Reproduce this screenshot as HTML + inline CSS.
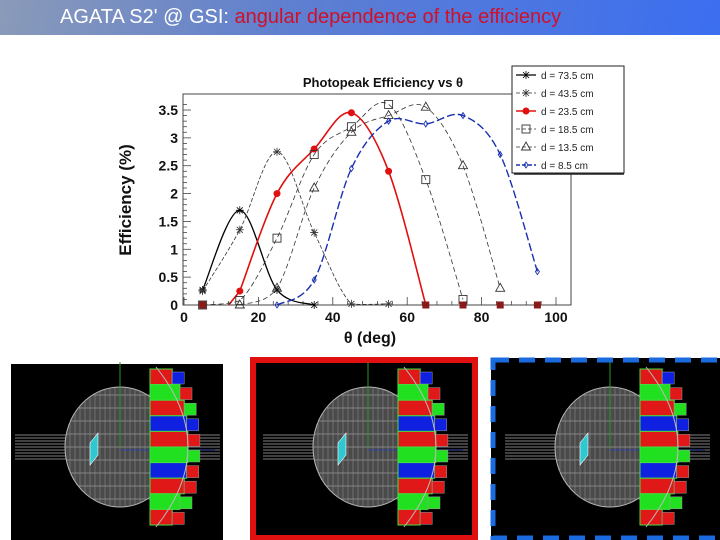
<!DOCTYPE html>
<html><head><meta charset="utf-8"><style>
html,body{margin:0;padding:0;background:#fff;}
body{width:720px;height:540px;overflow:hidden;position:relative;font-family:"Liberation Sans",sans-serif;}
#banner{position:absolute;left:0;top:0;width:720px;height:35px;background:linear-gradient(100deg,#8a9ab8 0%,#5f7fd0 40%,#3b6ef0 100%);}
#banner span{position:absolute;left:60px;top:6px;font-size:20px;color:#fff;white-space:nowrap;}
#banner .red{position:static;color:#d0102a;}
svg{position:absolute;left:0;top:0;}
</style></head><body>
<div id="banner"><span>AGATA S2' @ GSI: <span class="red">angular dependence of the efficiency</span></span></div>
<svg id="chart" width="720" height="540"></svg>
<script>
const thetas=[5,15,25,35,45,55,65,75,85,95];
const seriesNames=["d = 73.5 cm","d = 43.5 cm","d = 23.5 cm","d = 18.5 cm","d = 13.5 cm","d = 8.5 cm"];
const eff735=[0.27,1.7,0.27,0,null,null,null,null,null,null];
const eff435=[0.25,1.35,2.75,1.3,0.02,0.02,null,null,null,null];
const eff235=[null,0.25,2.0,2.8,3.45,2.4,0,null,null,null];
const eff185=[0,0.08,1.2,2.7,3.2,3.6,2.25,0.1,null,null];
const eff135=[null,0,0.3,2.1,3.1,3.4,3.55,2.5,0.3,null];
const eff85=[null,null,0,0.45,2.45,3.3,3.25,3.4,2.7,0.6];
const xTicks=[0,20,40,60,80,100];
const yTicks=[0,0.5,1,1.5,2,2.5,3,3.5];
const NS="http://www.w3.org/2000/svg";
const svg=document.getElementById('chart');
const X0=184,X1=556,Y0=305,Y35=110;
const sx=v=>X0+(X1-X0)*v/100;
const sy=v=>Y0-(Y0-Y35)*v/3.5;
function mk(t,a,p){const e=document.createElementNS(NS,t);for(const k in a)e.setAttribute(k,a[k]);(p||svg).appendChild(e);return e;}
const fr=mk('rect',{x:183,y:94,width:388,height:211,fill:'none',stroke:'#444','stroke-width':1});


for(let v=0;v<=3.7;v+=0.1){const y=sy(v);const big=Math.abs(v*2-Math.round(v*2))<1e-6;
 mk('line',{x1:183,x2:183+(big?8:4),y1:y,y2:y,stroke:'#444','stroke-width':0.8});}
yTicks.forEach(v=>{const t=mk('text',{x:178,y:sy(v)+5,'text-anchor':'end','font-size':14,'font-weight':'bold',fill:'#111'});t.textContent=v;
 
 });
for(let v=0;v<=104;v+=4){const x=sx(v);const big=v%20===0;
 mk('line',{x1:x,x2:x,y1:305,y2:305-(big?8:4),stroke:'#444','stroke-width':0.8});}
xTicks.forEach(v=>{const t=mk('text',{x:sx(v),y:322,'text-anchor':'middle','font-size':14,'font-weight':'bold',fill:'#111'});t.textContent=v;
 
 });
let t=mk('text',{x:370,y:343,'text-anchor':'middle','font-size':16,'font-weight':'bold',fill:'#111'});t.textContent='θ (deg)';


t=mk('text',{x:0,y:0,transform:'translate(131,200) rotate(-90)','text-anchor':'middle','font-size':17,'font-weight':'bold',fill:'#111'});t.textContent='Efficiency (%)';


t=mk('text',{x:383,y:87,'text-anchor':'middle','font-size':13,'font-weight':'bold',fill:'#111'});t.textContent='Photopeak Efficiency vs θ';


const data=[eff735,eff435,eff235,eff185,eff135,eff85];
const styles=[
 {c:'#000',w:1.3,d:'',m:'star'},{c:'#333',w:0.8,d:'4,2',m:'cross'},{c:'#e01010',w:1.6,d:'',m:'dot'},
 {c:'#333',w:0.8,d:'5,3',m:'square'},{c:'#333',w:0.8,d:'5,3',m:'tri'},{c:'#1a2fb0',w:1.4,d:'8,3',m:'diamond'}];
function spline(pts){let d=`M${pts[0][0]},${pts[0][1]}`;
 for(let i=0;i<pts.length-1;i++){const p0=pts[Math.max(0,i-1)],p1=pts[i],p2=pts[i+1],p3=pts[Math.min(pts.length-1,i+2)];
 d+=` C${p1[0]+(p2[0]-p0[0])/6},${Math.min(Y0,p1[1]+(p2[1]-p0[1])/6)} ${p2[0]-(p3[0]-p1[0])/6},${Math.min(Y0,p2[1]-(p3[1]-p1[1])/6)} ${p2[0]},${p2[1]}`;}
 return d;}
function marker(g,m,x,y,c){
 if(m==='dot'){mk('circle',{cx:x,cy:y,r:3.5,fill:c},g);}
 else if(m==='square'){mk('rect',{x:x-4,y:y-4,width:8,height:8,fill:'none',stroke:c,'stroke-width':0.9},g);}
 else if(m==='tri'){mk('polygon',{points:`${x},${y-5} ${x-4.5},${y+3} ${x+4.5},${y+3}`,fill:'none',stroke:c,'stroke-width':0.9},g);}
 else if(m==='diamond'){mk('polygon',{points:`${x},${y-3} ${x-2},${y} ${x},${y+3} ${x+2},${y}`,fill:'none',stroke:c,'stroke-width':0.9},g);}
 else {mk('path',{d:`M${x-4},${y}H${x+4}M${x},${y-4}V${y+4}M${x-3},${y-3}L${x+3},${y+3}M${x-3},${y+3}L${x+3},${y-3}`,stroke:c,'stroke-width':0.8},g);}
}
data.forEach((arr,si)=>{const s=styles[si];
 const g=mk('g',{});
 
 
 const pts=[];arr.forEach((v,i)=>{if(v!==null)pts.push([sx(thetas[i]),sy(v)]);});
 if(si===2){mk('line',{x1:sx(12),y1:sy(0),x2:pts[0][0],y2:pts[0][1],stroke:s.c,'stroke-width':s.w},g);}
 mk('path',{d:spline(pts),fill:'none',stroke:s.c,'stroke-width':s.w,'stroke-dasharray':s.d},g);
 pts.forEach(p=>marker(g,s.m,p[0],p[1],s.c));
});
[5,65,75,85,95].forEach(th=>{const r=mk('rect',{x:sx(th)-3.5,y:sy(0)-3.5,width:7,height:7,fill:'#8a1a1a'});
 
 });
const lg=mk('g',{});


mk('rect',{x:512,y:66,width:112,height:107,fill:'#fff',stroke:'#222','stroke-width':1},lg);
mk('line',{x1:514,x2:624,y1:174,y2:174,stroke:'#222','stroke-width':1.5},lg);
seriesNames.forEach((n,i)=>{const y=75+i*18;const s=styles[i];
 const e=mk('g',{},lg);
 
 
 mk('line',{x1:516,x2:536,y1:y,y2:y,stroke:s.c,'stroke-width':s.w,'stroke-dasharray':s.d?'4,2':''},e);
 marker(e,s.m,526,y,s.c);
 const tx=mk('text',{x:541,y:y+4,'font-size':10,fill:'#222'},e);tx.textContent=n;});
function panel(px,frameType){
 const g=mk('g',{});
 
 
 if(frameType==='white'){mk('rect',{x:3,y:358,width:225,height:182,fill:'#fff'},g);mk('rect',{x:11,y:364,width:212,height:176,fill:'#000'},g);}
 else if(frameType==='red'){mk('rect',{x:250,y:357,width:228,height:183,fill:'#e01010'},g);mk('rect',{x:256,y:363,width:216,height:172,fill:'#000'},g);}
 else {mk('rect',{x:491,y:358,width:229,height:182,fill:'#000'},g);mk('rect',{x:493,y:360,width:230,height:178,fill:'none',stroke:'#1a6ae0','stroke-width':5,'stroke-dasharray':'16,10'},g);}
 const cx=px,cy=447;
 for(let k=0;k<9;k++)mk('line',{x1:px-105,x2:px+100,y1:cy-12+k*3,y2:cy-12+k*3,stroke:'#aaa','stroke-width':0.8},g);
 mk('ellipse',{cx:cx,cy:cy,rx:55,ry:60,fill:'#4a4a4a',stroke:'#bbb','stroke-width':1},g);
 for(let k=-4;k<=4;k++){const hw=55*Math.sqrt(1-Math.pow(k*13/60,2));mk('line',{x1:cx-hw,x2:cx+30,y1:cy+k*13,y2:cy+k*13,stroke:'#999','stroke-width':0.7},g);}
 for(let k=0;k<16;k++){const xx=cx-50+k*5;const h=60*Math.sqrt(Math.max(0,1-Math.pow((xx-cx)/55,2)));mk('line',{x1:xx,x2:xx,y1:cy-h,y2:cy+h,stroke:'#888','stroke-width':0.6},g);}
 mk('line',{x1:cx,x2:cx,y1:362,y2:cy,stroke:'#2a9a2a','stroke-width':1},g);
 mk('line',{x1:cx,x2:cx+95,y1:cy+3,y2:cy+3,stroke:'#2040c0','stroke-width':0.8},g);
 mk('polygon',{points:`${cx-30},${cy-4} ${cx-22},${cy-14} ${cx-22},${cy+8} ${cx-30},${cy+18}`,fill:'#30c8d0',stroke:'#fff','stroke-width':0.6},g);
 const cols=['#e01818','#20e020','#e01818','#1020e0','#e01818','#20e020','#1020e0','#e01818','#20e020','#e01818'];
 for(let k=0;k<10;k++){const y=cy-78+k*15.6;const dy=(k-4.5)/5;const bulge=28*Math.sqrt(Math.max(0,1-dy*dy));
  mk('rect',{x:cx+30,y:y,width:10+bulge,height:15.6,fill:cols[k],stroke:'#40e040','stroke-width':1},g);
  mk('rect',{x:cx+40+bulge,y:y+3,width:12,height:12,fill:cols[(k+3)%10],stroke:'#999','stroke-width':0.5},g);}
 mk('path',{d:`M${cx+36},${cy-80} Q${cx+100},${cy} ${cx+36},${cy+80}`,fill:'none',stroke:'#bbb','stroke-width':1},g);
}
panel(120,'white');panel(368,'red');panel(610,'blue');
</script>
</body></html>
